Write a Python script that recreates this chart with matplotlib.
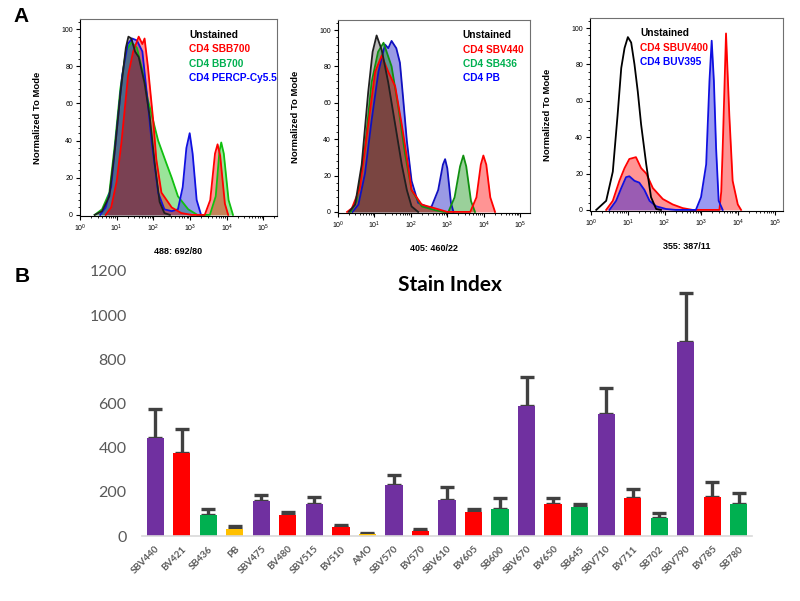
"""
plot.py - flow histograms (panel A) and stain index bars (panel B)
"""
import numpy as np
import matplotlib
matplotlib.use("Agg")
import matplotlib.pyplot as plt
from matplotlib.ticker import MultipleLocator, LogLocator, NullFormatter

# ── Panel A data: log10(fluorescence) positions and % of mode ───────────
# 488: 692/80
p1_unst_x = [0.40, 0.60, 0.80, 0.95, 1.10, 1.25, 1.32, 1.40, 1.50, 1.60, 1.76, 1.90, 2.04, 2.17, 2.30, 2.45]
p1_unst_y = [0, 2, 10, 35, 65, 90, 96, 95, 88, 85, 71, 53, 27, 7, 1, 0]
p1_sbb_x = [0.70, 0.85, 1.00, 1.13, 1.31, 1.45, 1.60, 1.70, 1.76, 1.85, 2.00, 2.08, 2.22, 2.50, 2.76, 3.04,
            3.40, 3.55, 3.68, 3.75, 3.82, 3.95, 4.04]
p1_sbb_y = [0, 4, 18, 39, 75, 88, 96, 92, 95, 80, 50, 30, 12, 4, 1, 0,
            0, 8, 33, 38, 32, 6, 0]
p1_bb_x = [0.40, 0.60, 0.80, 0.95, 1.10, 1.25, 1.40, 1.55, 1.70, 1.85, 2.13, 2.35, 2.50, 2.67, 2.95, 3.20,
           3.54, 3.70, 3.80, 3.85, 3.92, 4.05, 4.17]
p1_bb_y = [0, 3, 12, 38, 68, 88, 93, 90, 78, 62, 40, 28, 20, 10, 3, 0,
           0, 10, 34, 39, 33, 8, 0]
p1_per_x = [0.55, 0.70, 0.85, 1.00, 1.15, 1.30, 1.42, 1.55, 1.70, 1.85, 1.95, 2.13, 2.30, 2.50, 2.67,
            2.80, 2.90, 2.99, 3.07, 3.18, 3.30]
p1_per_y = [0, 4, 15, 45, 75, 92, 95, 94, 88, 60, 40, 12, 3, 2, 3,
            15, 36, 44, 33, 8, 0]

# 405: 460/22
p2_unst_x = [0.30, 0.47, 0.65, 0.83, 0.95, 1.06, 1.20, 1.38, 1.57, 1.75, 1.89, 2.02, 2.20]
p2_unst_y = [0, 4, 26, 66, 88, 97, 89, 71, 48, 26, 12, 3, 0]
p2_sbv_x = [0.25, 0.38, 0.60, 0.83, 1.02, 1.20, 1.38, 1.57, 1.75, 1.89, 2.02, 2.30, 2.66, 3.00,
            3.63, 3.80, 3.92, 3.99, 4.07, 4.18, 4.31]
p2_sbv_y = [0, 2, 13, 48, 77, 86, 77, 69, 48, 30, 12, 4, 2, 0,
            0, 8, 26, 31, 26, 8, 0]
p2_sb_x = [0.35, 0.51, 0.74, 0.92, 1.10, 1.25, 1.47, 1.66, 1.84, 2.02, 2.30, 2.66, 2.90,
           3.03, 3.20, 3.35, 3.44, 3.52, 3.65, 3.76]
p2_sb_y = [0, 6, 35, 71, 88, 93, 80, 57, 32, 12, 3, 1, 0,
           0, 8, 25, 31, 25, 6, 0]
p2_pb_x = [0.40, 0.56, 0.74, 0.92, 1.11, 1.29, 1.38, 1.47, 1.60, 1.70, 1.79, 1.89, 2.02, 2.20, 2.48,
           2.57, 2.75, 2.88, 2.94, 3.00, 3.10, 3.17]
p2_pb_y = [0, 4, 21, 50, 77, 92, 90, 94, 90, 82, 62, 39, 17, 5, 2.5,
           3, 12, 26, 29, 24, 5, 0]

# 355: 387/11
p3_unst_x = [0.14, 0.41, 0.59, 0.72, 0.82, 0.91, 1.00, 1.09, 1.18, 1.27, 1.36, 1.50, 1.63, 1.77, 1.90]
p3_unst_y = [0, 5, 21, 52, 78, 89, 95, 92, 80, 65, 47, 25, 7, 0.5, 0]
p3_sbuv_x = [0.41, 0.59, 0.77, 0.91, 1.04, 1.22, 1.36, 1.50, 1.68, 1.95, 2.22, 2.49, 2.76,
             3.49, 3.54, 3.58, 3.67, 3.76, 3.85, 3.99, 4.08]
p3_sbuv_y = [0, 5, 16, 23, 28, 29, 23, 20, 12, 6, 3, 1, 0,
             0, 10, 34, 97, 52, 16, 3, 0]
p3_buv_x = [0.50, 0.68, 0.82, 0.95, 1.04, 1.18, 1.31, 1.45, 1.59, 1.77, 2.04, 2.30,
            2.85, 2.99, 3.13, 3.22, 3.28, 3.34, 3.40, 3.47, 3.58]
p3_buv_y = [0, 5, 12, 18, 18.5, 16, 15, 11, 5, 2, 0.5, 0,
            0, 7, 25, 71, 93, 71, 34, 5, 0]

# ── Panel B data: stain index ─────────────────────────────────────────
dyes = ["SBV440", "BV421", "SB436", "PB", "SBV475", "BV480", "SBV515", "BV510", "AMO",
        "SBV570", "BV570", "SBV610", "BV605", "SB600", "SBV670", "BV650", "SB645",
        "SBV710", "BV711", "SB702", "SBV790", "BV785", "SB780"]
stain_index = [443, 374, 93, 33, 160, 95, 143, 42, 9,
               229, 24, 164, 108, 121, 587, 143, 130,
               553, 173, 81, 879, 178, 143]
stain_err = [130, 112, 28, 14, 26, 12, 35, 9, 3,
             48, 9, 58, 13, 49, 135, 27, 16,
             118, 40, 22, 223, 65, 52]
dye_group = ["sb", "bv", "sbg", "y", "sb", "bv", "sb", "bv", "y",
             "sb", "bv", "sb", "bv", "sbg", "sb", "bv", "sbg",
             "sb", "bv", "sbg", "sb", "bv", "sbg"]

GROUP_COLORS = {"sb": "#7030A0", "bv": "#FF0000", "sbg": "#00B050", "y": "#FFC000"}
W, H = 800, 601


def rect(left, right, top, bottom):
    return [left / W, 1 - bottom / H, (right - left) / W, (bottom - top) / H]


def draw_hist(ax, curves, legend, leg_x, xlim, xlabel):
    for xs, ys, color, alpha in curves:
        x = 10 ** np.array(xs)
        if alpha > 0:
            ax.fill_between(x, ys, 0, color=color, alpha=alpha, lw=0)
        ax.plot(x, ys, color=color, lw=1.3)
    ax.set_xscale("log")
    ax.set_xlim(*xlim)
    ax.set_ylim(-0.6, 105.5)
    ax.set_yticks([0, 20, 40, 60, 80, 100])
    ax.yaxis.set_minor_locator(MultipleLocator(4))
    ax.xaxis.set_major_locator(LogLocator(base=10, numticks=10))
    ax.xaxis.set_minor_locator(LogLocator(base=10, subs=np.arange(2, 10), numticks=12))
    ax.xaxis.set_minor_formatter(NullFormatter())
    ax.tick_params(which="major", length=3, width=0.8, labelsize=5, pad=2)
    ax.tick_params(which="minor", length=1.5, width=0.6)
    for s in ["top", "right"]:
        ax.spines[s].set_color("#707070")
    ax.set_xlabel(xlabel, fontsize=6.5, fontweight="bold", labelpad=9)
    ax.set_ylabel("Normalized To Mode", fontsize=6.8, fontweight="bold", labelpad=14)
    for i, (txt, c) in enumerate(legend):
        ax.text(leg_x, 0.92 - i * 0.074, txt, color=c, fontsize=7.3,
                fontweight="bold", transform=ax.transAxes, va="center", ha="left")


def main():
    plt.rcParams["font.family"] = ["Liberation Sans", "DejaVu Sans"]
    fig = plt.figure(figsize=(8, 6.01), dpi=100)

    ax1 = fig.add_axes(rect(80, 277, 19, 216))
    ax2 = fig.add_axes(rect(338, 530, 20, 213))
    ax3 = fig.add_axes(rect(590, 783, 18, 211))

    draw_hist(ax1, [
        (p1_bb_x, p1_bb_y, "#10C010", 0.42),
        (p1_per_x, p1_per_y, "#1010E0", 0.42),
        (p1_sbb_x, p1_sbb_y, "#FF0000", 0.42),
        (p1_unst_x, p1_unst_y, "#202020", 0.3),
    ], [("Unstained", "black"), ("CD4 SBB700", "#FF0000"),
        ("CD4 BB700", "#00B050"), ("CD4 PERCP-Cy5.5", "#0000FF")],
        0.555, (10 ** 0, 10 ** 5.37), "488: 692/80")

    draw_hist(ax2, [
        (p2_pb_x, p2_pb_y, "#1010C0", 0.42),
        (p2_sb_x, p2_sb_y, "#109010", 0.42),
        (p2_sbv_x, p2_sbv_y, "#FF0000", 0.42),
        (p2_unst_x, p2_unst_y, "#202020", 0.3),
    ], [("Unstained", "black"), ("CD4 SBV440", "#FF0000"),
        ("CD4 SB436", "#00B050"), ("CD4 PB", "#0000FF")],
        0.65, (10 ** 0, 10 ** 5.27), "405: 460/22")

    draw_hist(ax3, [
        (p3_sbuv_x, p3_sbuv_y, "#FF0000", 0.42),
        (p3_buv_x, p3_buv_y, "#1010E0", 0.42),
        (p3_unst_x, p3_unst_y, "#000000", 0),
    ], [("Unstained", "black"), ("CD4 SBUV400", "#FF0000"),
        ("CD4 BUV395", "#0000FF")],
        0.26, (10 ** -0.03, 10 ** 5.22), "355: 387/11")

    fig.text(21 / W, 1 - 16 / H, "A", fontsize=15, fontweight="bold", ha="center", va="center")
    fig.text(22 / W, 1 - 277 / H, "B", fontsize=15, fontweight="bold", ha="center", va="center")

    # ── Panel B ──
    axb = fig.add_axes(rect(142, 752, 271, 536))
    xpos = np.arange(len(dyes))
    colors = [GROUP_COLORS[g] for g in dye_group]
    axb.bar(xpos, stain_index, width=0.65, color=colors, zorder=2)
    axb.errorbar(xpos, stain_index, yerr=[np.zeros(len(dyes)), stain_err], fmt="none",
                 ecolor="#404040", elinewidth=2.4, capsize=5, capthick=2.4, zorder=1)
    axb.set_xlim(-0.5, len(dyes) - 0.5)
    axb.set_ylim(0, 1200)
    axb.set_yticks(np.arange(0, 1201, 200))
    axb.set_xticks(xpos)
    axb.set_xticklabels(dyes, rotation=45, ha="right", va="top", rotation_mode="anchor",
                        fontsize=7, color="#595959", fontweight="bold",
                        family=["Lato", "DejaVu Sans"])
    for lab in axb.get_yticklabels():
        lab.set_family(["Lato", "DejaVu Sans"])
    axb.tick_params(axis="y", length=0, labelsize=11.5, labelcolor="#595959", pad=11)
    axb.tick_params(axis="x", length=0, pad=6)
    for s in ["top", "right", "left"]:
        axb.spines[s].set_visible(False)
    axb.spines["bottom"].set_color("#D9D9D9")
    axb.spines["bottom"].set_linewidth(1.2)
    axb.text(450 / W, 1 - 285 / H, "Stain Index", transform=fig.transFigure,
             fontsize=15, fontweight="bold", ha="center", va="center",
             family=["Lato", "DejaVu Sans"])

    fig.savefig("out.png", dpi=100)


if __name__ == "__main__":
    main()
